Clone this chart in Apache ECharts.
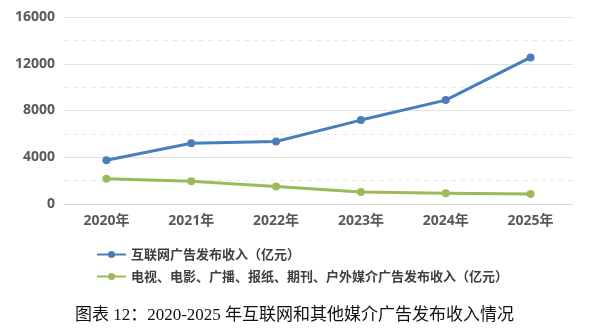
<!DOCTYPE html>
<html><head><meta charset="utf-8">
<script src="https://cdn.jsdelivr.net/npm/echarts@6/dist/echarts.min.js"></script>
<style>html,body{margin:0;padding:0;background:#fff}#c{width:589px;height:329px}</style>
</head><body><div id="c"></div>
<script>
const categories = ['2020年','2021年','2022年','2023年','2024年','2025年'];
const internetName = '互联网广告发布收入（亿元）';
const internetValues = [3750, 5200, 5350, 7180, 8890, 12540];
const otherName = '电视、电影、广播、报纸、期刊、户外媒介广告发布收入（亿元）';
const otherValues = [2150, 1950, 1500, 1020, 930, 850];
const titleText = '图表 12：2020-2025 年互联网和其他媒介广告发布收入情况';

const chart = echarts.init(document.getElementById('c'));
const lab = {color:'#595959', fontWeight:'bold', fontSize:14, fontFamily:'"Open Sans","Noto Sans CJK SC",sans-serif'};
chart.setOption({
  animation:false,
  title:{text:titleText, left:'center', top:302, textStyle:{fontFamily:'"Liberation Serif","Noto Sans CJK SC",serif', fontWeight:'normal', fontSize:17, color:'#111'}},
  legend:{orient:'vertical', left:91, top:243, itemWidth:29, itemHeight:9, itemGap:9,
    textStyle:{color:'#404040', fontWeight:'bold', fontSize:13, fontFamily:'"Noto Sans CJK SC",sans-serif'},
    data:[internetName, otherName]},
  grid:{left:64, right:16, top:17, bottom:125},
  xAxis:{type:'category', data:categories, boundaryGap:true,
    axisLine:{show:true, lineStyle:{color:'#d9d9d9'}}, axisTick:{show:false},
    axisLabel:Object.assign({margin:10}, lab)},
  yAxis:{type:'value', min:0, max:16000, interval:4000,
    axisLine:{show:false}, axisTick:{show:false},
    axisLabel:Object.assign({margin:9, formatter:v=>String(v)}, lab),
    splitLine:{lineStyle:{color:'#e0e0e0', width:1}},
    minorTick:{show:false, splitNumber:2},
    minorSplitLine:{show:true, lineStyle:{color:'#eaeaea', type:[5,4], width:1}}},
  series:[
    {name:internetName, type:'line', data:internetValues, symbol:'circle', symbolSize:8,
     lineStyle:{width:3, color:'#4a7ebb'}, itemStyle:{color:'#4a7ebb'}},
    {name:otherName, type:'line', data:otherValues, symbol:'circle', symbolSize:8,
     lineStyle:{width:3, color:'#9bbb59'}, itemStyle:{color:'#9bbb59'}}
  ]
});
</script></body></html>
